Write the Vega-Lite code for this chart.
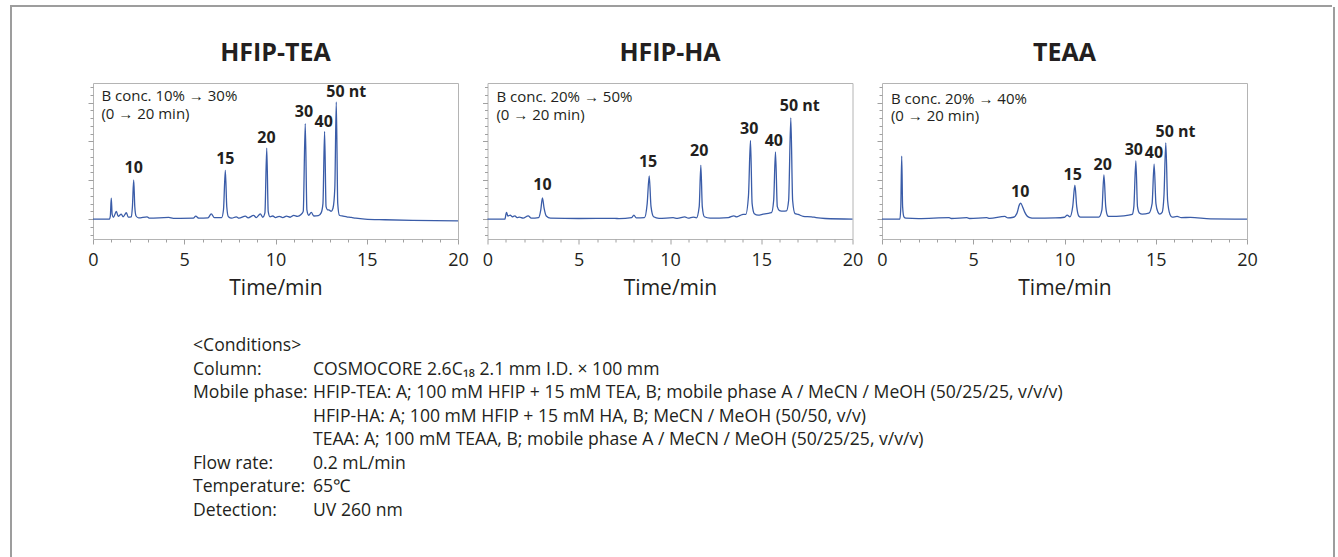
{
  "$schema": "https://vega.github.io/schema/vega-lite/v6.json",
  "padding": {"left": 10, "top": 5, "right": 0, "bottom": 0},
  "autosize": {"type": "pad"},
  "background": "white",
  "config": {"font": "Open Sans", "view": {"stroke": null}, "axis": {"labelOverlap": false}},
  "datasets": {
    "d": [
      {"p":"HFIP-TEA","k":"trace","t":0,"v":0},{"p":"HFIP-TEA","k":"trace","t":0.9,"v":0},{"p":"HFIP-TEA","k":"trace","t":0.95,"v":2},{"p":"HFIP-TEA","k":"trace","t":1.0,"v":13.5},{"p":"HFIP-TEA","k":"trace","t":1.05,"v":3},{"p":"HFIP-TEA","k":"trace","t":1.12,"v":1.2},{"p":"HFIP-TEA","k":"trace","t":1.28,"v":4.9},{"p":"HFIP-TEA","k":"trace","t":1.38,"v":1.8},{"p":"HFIP-TEA","k":"trace","t":1.55,"v":3.2},{"p":"HFIP-TEA","k":"trace","t":1.65,"v":1.5},{"p":"HFIP-TEA","k":"trace","t":1.83,"v":4.1},{"p":"HFIP-TEA","k":"trace","t":1.93,"v":1.3},{"p":"HFIP-TEA","k":"trace","t":2.1,"v":1.5},{"p":"HFIP-TEA","k":"trace","t":2.16,"v":8},{"p":"HFIP-TEA","k":"trace","t":2.23,"v":25.2},{"p":"HFIP-TEA","k":"trace","t":2.29,"v":8},{"p":"HFIP-TEA","k":"trace","t":2.36,"v":2},{"p":"HFIP-TEA","k":"trace","t":2.5,"v":0.8},{"p":"HFIP-TEA","k":"trace","t":2.96,"v":1.5},{"p":"HFIP-TEA","k":"trace","t":3.1,"v":0.6},{"p":"HFIP-TEA","k":"trace","t":4.15,"v":1.1},{"p":"HFIP-TEA","k":"trace","t":4.4,"v":0.5},{"p":"HFIP-TEA","k":"trace","t":5.5,"v":0.6},{"p":"HFIP-TEA","k":"trace","t":5.63,"v":1.9},{"p":"HFIP-TEA","k":"trace","t":5.8,"v":0.6},{"p":"HFIP-TEA","k":"trace","t":6.3,"v":0.8},{"p":"HFIP-TEA","k":"trace","t":6.48,"v":3.4},{"p":"HFIP-TEA","k":"trace","t":6.65,"v":0.9},{"p":"HFIP-TEA","k":"trace","t":7.05,"v":1.0},{"p":"HFIP-TEA","k":"trace","t":7.15,"v":6},{"p":"HFIP-TEA","k":"trace","t":7.25,"v":31.4},{"p":"HFIP-TEA","k":"trace","t":7.33,"v":8},{"p":"HFIP-TEA","k":"trace","t":7.42,"v":1.5},{"p":"HFIP-TEA","k":"trace","t":7.6,"v":0.6},{"p":"HFIP-TEA","k":"trace","t":7.85,"v":1.5},{"p":"HFIP-TEA","k":"trace","t":8.0,"v":0.6},{"p":"HFIP-TEA","k":"trace","t":8.35,"v":1.9},{"p":"HFIP-TEA","k":"trace","t":8.5,"v":0.8},{"p":"HFIP-TEA","k":"trace","t":8.8,"v":2.4},{"p":"HFIP-TEA","k":"trace","t":8.95,"v":1.0},{"p":"HFIP-TEA","k":"trace","t":9.17,"v":3.4},{"p":"HFIP-TEA","k":"trace","t":9.3,"v":1.2},{"p":"HFIP-TEA","k":"trace","t":9.42,"v":4},{"p":"HFIP-TEA","k":"trace","t":9.52,"v":45.7},{"p":"HFIP-TEA","k":"trace","t":9.6,"v":5},{"p":"HFIP-TEA","k":"trace","t":9.7,"v":1.5},{"p":"HFIP-TEA","k":"trace","t":9.85,"v":2.0},{"p":"HFIP-TEA","k":"trace","t":10.0,"v":1.0},{"p":"HFIP-TEA","k":"trace","t":10.2,"v":1.8},{"p":"HFIP-TEA","k":"trace","t":10.4,"v":1.0},{"p":"HFIP-TEA","k":"trace","t":10.6,"v":1.9},{"p":"HFIP-TEA","k":"trace","t":10.8,"v":1.2},{"p":"HFIP-TEA","k":"trace","t":11.0,"v":2.4},{"p":"HFIP-TEA","k":"trace","t":11.2,"v":1.8},{"p":"HFIP-TEA","k":"trace","t":11.4,"v":3.0},{"p":"HFIP-TEA","k":"trace","t":11.52,"v":5},{"p":"HFIP-TEA","k":"trace","t":11.63,"v":61.5},{"p":"HFIP-TEA","k":"trace","t":11.72,"v":6},{"p":"HFIP-TEA","k":"trace","t":11.82,"v":2.5},{"p":"HFIP-TEA","k":"trace","t":11.96,"v":4.3},{"p":"HFIP-TEA","k":"trace","t":12.1,"v":2.0},{"p":"HFIP-TEA","k":"trace","t":12.35,"v":2.2},{"p":"HFIP-TEA","k":"trace","t":12.5,"v":4},{"p":"HFIP-TEA","k":"trace","t":12.6,"v":10},{"p":"HFIP-TEA","k":"trace","t":12.69,"v":56.4},{"p":"HFIP-TEA","k":"trace","t":12.77,"v":8},{"p":"HFIP-TEA","k":"trace","t":12.85,"v":6},{"p":"HFIP-TEA","k":"trace","t":12.95,"v":5.8},{"p":"HFIP-TEA","k":"trace","t":13.05,"v":5},{"p":"HFIP-TEA","k":"trace","t":13.15,"v":7},{"p":"HFIP-TEA","k":"trace","t":13.25,"v":20},{"p":"HFIP-TEA","k":"trace","t":13.33,"v":75.4},{"p":"HFIP-TEA","k":"trace","t":13.41,"v":10},{"p":"HFIP-TEA","k":"trace","t":13.5,"v":2.5},{"p":"HFIP-TEA","k":"trace","t":13.7,"v":1.9},{"p":"HFIP-TEA","k":"trace","t":13.9,"v":1.5},{"p":"HFIP-TEA","k":"trace","t":14.15,"v":1.1},{"p":"HFIP-TEA","k":"trace","t":14.4,"v":0.6},{"p":"HFIP-TEA","k":"trace","t":14.9,"v":0},{"p":"HFIP-TEA","k":"trace","t":16,"v":-0.4},{"p":"HFIP-TEA","k":"trace","t":17.5,"v":-0.8},{"p":"HFIP-TEA","k":"trace","t":20,"v":-1.1},

      {"p":"HFIP-HA","k":"trace","t":0,"v":0},{"p":"HFIP-HA","k":"trace","t":0.95,"v":0},{"p":"HFIP-HA","k":"trace","t":1.04,"v":4.3},{"p":"HFIP-HA","k":"trace","t":1.12,"v":2.0},{"p":"HFIP-HA","k":"trace","t":1.25,"v":2.6},{"p":"HFIP-HA","k":"trace","t":1.35,"v":1.5},{"p":"HFIP-HA","k":"trace","t":1.5,"v":2.1},{"p":"HFIP-HA","k":"trace","t":1.62,"v":1.0},{"p":"HFIP-HA","k":"trace","t":1.75,"v":1.3},{"p":"HFIP-HA","k":"trace","t":1.95,"v":0.6},{"p":"HFIP-HA","k":"trace","t":2.23,"v":2.1},{"p":"HFIP-HA","k":"trace","t":2.4,"v":0.6},{"p":"HFIP-HA","k":"trace","t":2.8,"v":1.0},{"p":"HFIP-HA","k":"trace","t":2.92,"v":6},{"p":"HFIP-HA","k":"trace","t":3.01,"v":13.7},{"p":"HFIP-HA","k":"trace","t":3.1,"v":7},{"p":"HFIP-HA","k":"trace","t":3.22,"v":2},{"p":"HFIP-HA","k":"trace","t":3.45,"v":0.6},{"p":"HFIP-HA","k":"trace","t":5.0,"v":0.4},{"p":"HFIP-HA","k":"trace","t":6.98,"v":0.5},{"p":"HFIP-HA","k":"trace","t":7.2,"v":0.3},{"p":"HFIP-HA","k":"trace","t":7.9,"v":1.0},{"p":"HFIP-HA","k":"trace","t":8.02,"v":2.6},{"p":"HFIP-HA","k":"trace","t":8.15,"v":0.8},{"p":"HFIP-HA","k":"trace","t":8.6,"v":1.0},{"p":"HFIP-HA","k":"trace","t":8.75,"v":10},{"p":"HFIP-HA","k":"trace","t":8.86,"v":27.8},{"p":"HFIP-HA","k":"trace","t":8.96,"v":8},{"p":"HFIP-HA","k":"trace","t":9.1,"v":1.5},{"p":"HFIP-HA","k":"trace","t":9.4,"v":0.5},{"p":"HFIP-HA","k":"trace","t":10.17,"v":0.9},{"p":"HFIP-HA","k":"trace","t":10.4,"v":0.5},{"p":"HFIP-HA","k":"trace","t":10.81,"v":1.5},{"p":"HFIP-HA","k":"trace","t":11.0,"v":0.6},{"p":"HFIP-HA","k":"trace","t":11.27,"v":1.3},{"p":"HFIP-HA","k":"trace","t":11.45,"v":0.8},{"p":"HFIP-HA","k":"trace","t":11.6,"v":8},{"p":"HFIP-HA","k":"trace","t":11.69,"v":34.6},{"p":"HFIP-HA","k":"trace","t":11.77,"v":8},{"p":"HFIP-HA","k":"trace","t":11.88,"v":1.5},{"p":"HFIP-HA","k":"trace","t":12.2,"v":0.6},{"p":"HFIP-HA","k":"trace","t":13.2,"v":1.0},{"p":"HFIP-HA","k":"trace","t":13.5,"v":2.1},{"p":"HFIP-HA","k":"trace","t":13.65,"v":1.5},{"p":"HFIP-HA","k":"trace","t":13.85,"v":2.4},{"p":"HFIP-HA","k":"trace","t":14.0,"v":3.0},{"p":"HFIP-HA","k":"trace","t":14.15,"v":3},{"p":"HFIP-HA","k":"trace","t":14.3,"v":15},{"p":"HFIP-HA","k":"trace","t":14.41,"v":50.6},{"p":"HFIP-HA","k":"trace","t":14.5,"v":10},{"p":"HFIP-HA","k":"trace","t":14.62,"v":3.5},{"p":"HFIP-HA","k":"trace","t":14.83,"v":2.6},{"p":"HFIP-HA","k":"trace","t":15.1,"v":3.2},{"p":"HFIP-HA","k":"trace","t":15.29,"v":3.6},{"p":"HFIP-HA","k":"trace","t":15.56,"v":4.1},{"p":"HFIP-HA","k":"trace","t":15.68,"v":12},{"p":"HFIP-HA","k":"trace","t":15.78,"v":43.2},{"p":"HFIP-HA","k":"trace","t":15.88,"v":8},{"p":"HFIP-HA","k":"trace","t":16.0,"v":5.5},{"p":"HFIP-HA","k":"trace","t":16.2,"v":5.1},{"p":"HFIP-HA","k":"trace","t":16.38,"v":5.3},{"p":"HFIP-HA","k":"trace","t":16.5,"v":12},{"p":"HFIP-HA","k":"trace","t":16.62,"v":65.2},{"p":"HFIP-HA","k":"trace","t":16.72,"v":12},{"p":"HFIP-HA","k":"trace","t":16.85,"v":3.5},{"p":"HFIP-HA","k":"trace","t":17.02,"v":3.0},{"p":"HFIP-HA","k":"trace","t":17.3,"v":1.8},{"p":"HFIP-HA","k":"trace","t":17.75,"v":1.5},{"p":"HFIP-HA","k":"trace","t":18.0,"v":1.0},{"p":"HFIP-HA","k":"trace","t":18.5,"v":0.4},{"p":"HFIP-HA","k":"trace","t":20,"v":0},

      {"p":"TEAA","k":"trace","t":0,"v":0},{"p":"TEAA","k":"trace","t":0.98,"v":0},{"p":"TEAA","k":"trace","t":1.03,"v":8},{"p":"TEAA","k":"trace","t":1.08,"v":40.6},{"p":"TEAA","k":"trace","t":1.13,"v":8},{"p":"TEAA","k":"trace","t":1.2,"v":1.5},{"p":"TEAA","k":"trace","t":1.31,"v":0.6},{"p":"TEAA","k":"trace","t":2.0,"v":0.3},{"p":"TEAA","k":"trace","t":3.68,"v":0.9},{"p":"TEAA","k":"trace","t":3.8,"v":0.4},{"p":"TEAA","k":"trace","t":4.65,"v":0.9},{"p":"TEAA","k":"trace","t":4.8,"v":0.4},{"p":"TEAA","k":"trace","t":5.74,"v":0.9},{"p":"TEAA","k":"trace","t":5.9,"v":0.5},{"p":"TEAA","k":"trace","t":6.73,"v":1.7},{"p":"TEAA","k":"trace","t":6.9,"v":0.8},{"p":"TEAA","k":"trace","t":7.2,"v":1.2},{"p":"TEAA","k":"trace","t":7.4,"v":4},{"p":"TEAA","k":"trace","t":7.52,"v":9},{"p":"TEAA","k":"trace","t":7.6,"v":10.3},{"p":"TEAA","k":"trace","t":7.7,"v":8},{"p":"TEAA","k":"trace","t":7.82,"v":4.5},{"p":"TEAA","k":"trace","t":7.95,"v":2},{"p":"TEAA","k":"trace","t":8.1,"v":1.0},{"p":"TEAA","k":"trace","t":8.33,"v":0.6},{"p":"TEAA","k":"trace","t":9.5,"v":0.8},{"p":"TEAA","k":"trace","t":10.0,"v":1.2},{"p":"TEAA","k":"trace","t":10.15,"v":2.6},{"p":"TEAA","k":"trace","t":10.3,"v":1.5},{"p":"TEAA","k":"trace","t":10.45,"v":8},{"p":"TEAA","k":"trace","t":10.57,"v":21.8},{"p":"TEAA","k":"trace","t":10.67,"v":8},{"p":"TEAA","k":"trace","t":10.78,"v":2},{"p":"TEAA","k":"trace","t":10.88,"v":1.3},{"p":"TEAA","k":"trace","t":11.88,"v":1.3},{"p":"TEAA","k":"trace","t":12.05,"v":6},{"p":"TEAA","k":"trace","t":12.16,"v":28.4},{"p":"TEAA","k":"trace","t":12.26,"v":8},{"p":"TEAA","k":"trace","t":12.36,"v":2.2},{"p":"TEAA","k":"trace","t":12.44,"v":1.7},{"p":"TEAA","k":"trace","t":13.25,"v":2.1},{"p":"TEAA","k":"trace","t":13.71,"v":3.0},{"p":"TEAA","k":"trace","t":13.8,"v":8},{"p":"TEAA","k":"trace","t":13.91,"v":37.4},{"p":"TEAA","k":"trace","t":14.0,"v":8},{"p":"TEAA","k":"trace","t":14.1,"v":4},{"p":"TEAA","k":"trace","t":14.26,"v":3.2},{"p":"TEAA","k":"trace","t":14.62,"v":3.8},{"p":"TEAA","k":"trace","t":14.8,"v":10},{"p":"TEAA","k":"trace","t":14.91,"v":35.3},{"p":"TEAA","k":"trace","t":15.01,"v":10},{"p":"TEAA","k":"trace","t":15.12,"v":4.5},{"p":"TEAA","k":"trace","t":15.22,"v":3.2},{"p":"TEAA","k":"trace","t":15.35,"v":4.3},{"p":"TEAA","k":"trace","t":15.45,"v":15},{"p":"TEAA","k":"trace","t":15.55,"v":49.1},{"p":"TEAA","k":"trace","t":15.65,"v":12},{"p":"TEAA","k":"trace","t":15.78,"v":3},{"p":"TEAA","k":"trace","t":15.9,"v":1.3},{"p":"TEAA","k":"trace","t":16.17,"v":1.7},{"p":"TEAA","k":"trace","t":16.4,"v":1.0},{"p":"TEAA","k":"trace","t":16.9,"v":1.1},{"p":"TEAA","k":"trace","t":18,"v":0.2},{"p":"TEAA","k":"trace","t":20,"v":0},

      {"p":"HFIP-TEA","k":"peak","t":2.23,"v":29.9,"s":"10"},{"p":"HFIP-TEA","k":"peak","t":7.25,"v":35.3,"s":"15"},{"p":"HFIP-TEA","k":"peak","t":9.5,"v":49.1,"s":"20"},{"p":"HFIP-TEA","k":"peak","t":11.56,"v":65.6,"s":"30"},{"p":"HFIP-TEA","k":"peak","t":12.64,"v":59.4,"s":"40"},{"p":"HFIP-TEA","k":"peak","t":13.88,"v":78.6,"s":"50 nt"},
      {"p":"HFIP-HA","k":"peak","t":3.01,"v":18.6,"s":"10"},{"p":"HFIP-HA","k":"peak","t":8.8,"v":33.5,"s":"15"},{"p":"HFIP-HA","k":"peak","t":11.6,"v":40.6,"s":"20"},{"p":"HFIP-HA","k":"peak","t":14.34,"v":54.9,"s":"30"},{"p":"HFIP-HA","k":"peak","t":15.69,"v":47.0,"s":"40"},{"p":"HFIP-HA","k":"peak","t":17.11,"v":69.4,"s":"50 nt"},
      {"p":"TEAA","k":"peak","t":7.57,"v":14.1,"s":"10"},{"p":"TEAA","k":"peak","t":10.45,"v":25.2,"s":"15"},{"p":"TEAA","k":"peak","t":12.09,"v":31.6,"s":"20"},{"p":"TEAA","k":"peak","t":13.8,"v":41.2,"s":"30"},{"p":"TEAA","k":"peak","t":14.9,"v":39.1,"s":"40"},{"p":"TEAA","k":"peak","t":16.08,"v":53.0,"s":"50 nt"},

      {"p":"HFIP-TEA","k":"note","t":0.46,"v":75.9,"s":"B conc. 10% → 30%"},{"p":"HFIP-TEA","k":"note","t":0.46,"v":64.3,"s":"(0 → 20 min)"},
      {"p":"HFIP-HA","k":"note","t":0.49,"v":75.2,"s":"B conc. 20% → 50%"},{"p":"HFIP-HA","k":"note","t":0.49,"v":63.8,"s":"(0 → 20 min)"},
      {"p":"TEAA","k":"note","t":0.49,"v":74.4,"s":"B conc. 20% → 40%"},{"p":"TEAA","k":"note","t":0.49,"v":63.0,"s":"(0 → 20 min)"}
    ],
    "c": [
      {"row":0,"col":"label","s":"<Conditions>"},
      {"row":1,"col":"label","s":"Column:"},{"row":1,"col":"value","s":"COSMOCORE 2.6C₁₈  2.1 mm I.D. × 100 mm"},
      {"row":2,"col":"label","s":"Mobile phase:"},{"row":2,"col":"value","s":"HFIP-TEA: A; 100 mM HFIP + 15 mM TEA, B; mobile phase A / MeCN / MeOH (50/25/25, v/v/v)"},
      {"row":3,"col":"value","s":"HFIP-HA: A; 100 mM HFIP + 15 mM HA, B; MeCN / MeOH (50/50, v/v)"},
      {"row":4,"col":"value","s":"TEAA: A; 100 mM TEAA, B; mobile phase A / MeCN / MeOH (50/25/25, v/v/v)"},
      {"row":5,"col":"label","s":"Flow rate:"},{"row":5,"col":"value","s":"0.2 mL/min"},
      {"row":6,"col":"label","s":"Temperature:"},{"row":6,"col":"value","s":"65℃"},
      {"row":7,"col":"label","s":"Detection:"},{"row":7,"col":"value","s":"UV 260 nm"}
    ]
  },
  "spacing": 0,
  "vconcat": [
    {
      "width": 1322, "height": 2,
      "data": {"values": []},
      "mark": "point",
      "view": {"fill": "#9d9d9d", "stroke": null}
    },
    {
      "spacing": 75,
      "hconcat": [
        {
          "width": 2, "height": 560,
          "data": {"values": []},
          "mark": "point",
          "view": {"fill": "#9d9d9d", "stroke": null}
        },
        {
          "spacing": 33,
          "vconcat": [
            {"width": 1, "height": 1, "data": {"values": []}, "mark": "point"},
            {
              "data": {"name": "d"},
              "facet": {
                "column": {
                  "field": "p", "type": "nominal",
                  "sort": ["HFIP-TEA", "HFIP-HA", "TEAA"],
                  "header": {"title": null, "labelFontSize": 25, "labelFontWeight": "bold", "labelFont": "Open Sans", "labelColor": "#231f20", "labelPadding": 16}
                }
              },
              "spacing": 12.5,
              "resolve": {"axis": {"y": "independent", "x": "independent"}},
              "spec": {
                "width": 365, "height": 156,
                "view": {"stroke": "#b4b4b4", "strokeWidth": 1},
                "encoding": {
                  "x": {"field": "t", "type": "quantitative",
                    "scale": {"domain": [0, 20], "nice": false},
                    "axis": {"title": "Time/min", "titleFontSize": 21, "titleFont": "Open Sans", "titleFontWeight": "normal", "titleColor": "#231f20", "titlePadding": 8,
                      "values": [0,0.5,1,1.5,2,2.5,3,3.5,4,4.5,5,5.5,6,6.5,7,7.5,8,8.5,9,9.5,10,10.5,11,11.5,12,12.5,13,13.5,14,14.5,15,15.5,16,16.5,17,17.5,18,18.5,19,19.5,20],
                      "format": "d",
                      "labelExpr": "abs(datum.value % 5) < 0.01 ? datum.label : ''",
                      "labelFontSize": 18, "labelColor": "#231f20", "labelFont": "Open Sans", "labelOverlap": false, "labelFlush": false, "labelPadding": 7,
                      "domain": false, "grid": false, "tickColor": "#a0a0a0",
                      "tickSize": {"condition": {"test": "abs(datum.value % 5) < 0.01", "value": 5}, "value": 3}}},
                  "y": {"field": "v", "type": "quantitative",
                    "scale": {"domain": [-12.8, 87.6], "nice": false, "zero": false},
                    "axis": {"title": null, "labels": false, "domain": false, "grid": false, "tickColor": "#a0a0a0",
                      "values": [-10,-5,0,5,10,15,20,25,30,35,40,45,50,55,60,65,70,75,80,85],
                      "tickSize": {"condition": {"test": "abs(datum.value % 25) < 0.01", "value": 5}, "value": 3}}}
                },
                "layer": [
                  {
                    "transform": [{"filter": "datum.k === 'trace'"}],
                    "mark": {"type": "line", "color": "#3a5ca8", "strokeWidth": 1.3, "interpolate": "monotone"}
                  },
                  {
                    "transform": [{"filter": "datum.k === 'peak'"}],
                    "mark": {"type": "text", "fontWeight": "bold", "fontSize": 16, "font": "Open Sans", "baseline": "alphabetic", "align": "center", "color": "#231f20"},
                    "encoding": {"text": {"field": "s"}}
                  },
                  {
                    "transform": [{"filter": "datum.k === 'note'"}],
                    "mark": {"type": "text", "fontSize": 15, "font": "Open Sans", "baseline": "alphabetic", "align": "left", "color": "#231f20"},
                    "encoding": {"text": {"field": "s"}}
                  }
                ]
              }
            },
            {
              "width": 220, "height": 185,
              "data": {"name": "c"},
              "mark": {"type": "text", "fontSize": 17.6, "font": "Open Sans", "align": "left", "baseline": "middle", "color": "#231f20"},
              "encoding": {
                "x": {"field": "col", "type": "nominal", "scale": {"type": "point", "padding": 0, "domain": ["label", "value"], "range": [100, 220]}, "axis": null},
                "y": {"field": "row", "type": "ordinal", "scale": {"type": "point", "padding": 0, "domain": [0,1,2,3,4,5,6,7], "range": [14, 179]}, "axis": null},
                "text": {"field": "s"}
              }
            }
          ]
        },
        {
          "width": 2, "height": 560,
          "data": {"values": []},
          "mark": "point",
          "view": {"fill": "#9d9d9d", "stroke": null}
        }
      ]
    }
  ]
}
